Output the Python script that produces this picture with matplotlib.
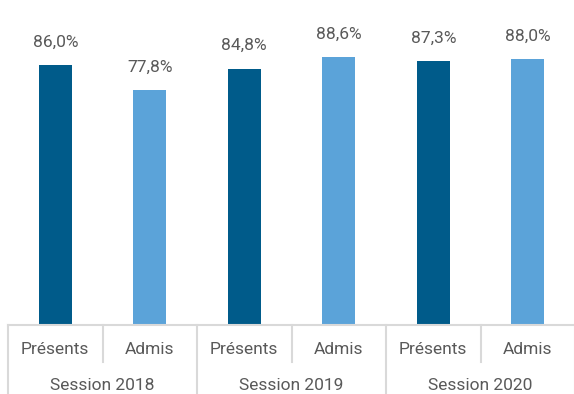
import matplotlib
matplotlib.use("Agg")
import matplotlib.pyplot as plt
import matplotlib.transforms as mtransforms

sessions = ["Session 2018", "Session 2019", "Session 2020"]
subcats = ["Présents", "Admis"]
presents = [86.0, 84.8, 87.3]
admis = [77.8, 88.6, 88.0]

dark = "#005B8A"
light = "#5BA3D9"
grid = "#D9D9D9"
txt = "#595959"

plt.rcParams['font.family'] = ['Roboto', 'DejaVu Sans']

W, H = 574, 394
fig = plt.figure(figsize=(W / 100, H / 100), dpi=100)
ax_left, ax_bottom, ax_w, ax_h = 8, 69, 567, 325
ax = fig.add_axes([ax_left / W, ax_bottom / H, ax_w / W, ax_h / H])

xs, vals, cols = [], [], []
for i in range(len(sessions)):
    for j, series in enumerate([presents, admis]):
        xs.append(i * 2 + j + 0.5)
        vals.append(series[i])
        cols.append(dark if j == 0 else light)

ax.bar(xs, vals, width=0.35, color=cols)
ax.set_xlim(0, 6)
ax.set_ylim(0, 107.5)
for s in ax.spines.values():
    s.set_visible(False)
ax.set_xticks([])
ax.set_yticks([])

for x, v in zip(xs, vals):
    ax.annotate(f"{v:.1f}".replace(".", ",") + "%", (x, v), xytext=(0, 16.5),
                textcoords="offset points", ha="center", va="center",
                fontsize=12.5, color=txt)

trans = mtransforms.blended_transform_factory(ax.transData, ax.transAxes)
ax.plot([0, 6], [0, 0], transform=trans, color=grid, lw=1.5, clip_on=False)
full = -69 / 325
sub = -37 / 325
for k in range(7):
    y0 = full if k % 2 == 0 else sub
    ax.plot([k, k], [0, y0], transform=trans, color=grid, lw=1.5, clip_on=False)

for i, s in enumerate(sessions):
    for j, c in enumerate(subcats):
        ax.text(i * 2 + j + 0.5, -24 / 325, c, transform=trans, ha="center",
                va="center", fontsize=12.5, color=txt)
    ax.text(i * 2 + 1, -60 / 325, s, transform=trans, ha="center",
            va="center", fontsize=12.5, color=txt)

fig.savefig("out.png", dpi=100)
